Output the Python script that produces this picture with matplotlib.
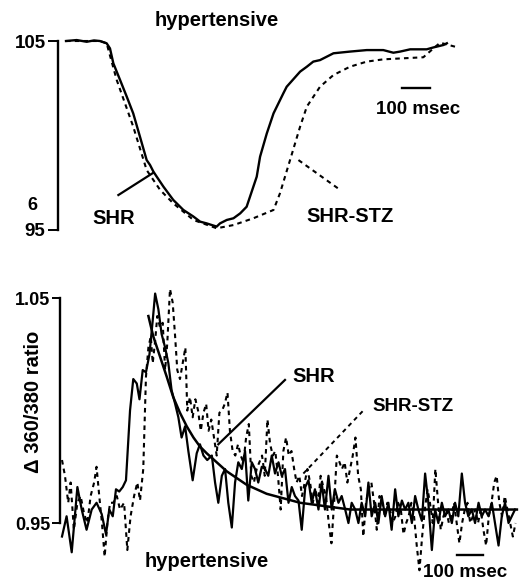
import matplotlib
matplotlib.use('Agg')
import matplotlib.pyplot as plt

plt.rcParams['font.family'] = ['Liberation Sans', 'DejaVu Sans']
plt.rcParams['font.weight'] = 'bold'

# ---- верхня панель: тиск (мм рт. ст.), час у мс ----
top_t_shr = [0, 38, 74, 100, 121, 145, 157, 169, 193, 217, 240, 264, 288, 300, 312,
             324, 348, 383, 419, 455, 479, 502, 538, 550, 574, 598, 622, 645, 657,
             681, 693, 717, 741, 776, 788, 836, 860, 883, 907, 955, 1014, 1074,
             1133, 1169, 1193, 1229, 1288, 1312, 1348, 1360]
top_v_shr = [105.0, 105.05, 104.96, 105.03, 105.0, 104.88, 104.61, 103.82, 102.94,
             102.05, 101.17, 99.94, 98.70, 98.44, 98.09, 97.82, 97.29, 96.59, 96.06,
             95.71, 95.44, 95.35, 95.18, 95.35, 95.53, 95.62, 95.88, 96.23, 96.76,
             97.82, 98.88, 100.11, 101.17, 102.23, 102.58, 103.38, 103.64, 103.91,
             103.99, 104.35, 104.44, 104.52, 104.52, 104.38, 104.44, 104.56, 104.56,
             104.66, 104.79, 104.88]
top_t_stz = [0, 121, 145, 181, 240, 288, 336, 383, 455, 538, 598, 669, 741, 764, 800,
             836, 860, 907, 955, 1014, 1074, 1133, 1276, 1312, 1336, 1389]
top_v_stz = [105.0, 105.0, 104.88, 102.94, 100.47, 98.17, 97.12, 96.41, 95.53, 95.09,
             95.26, 95.62, 96.06, 96.94, 98.70, 100.47, 101.53, 102.58, 103.20, 103.64,
             103.91, 104.03, 104.14, 104.61, 104.91, 104.70]

# ---- нижня панель: зміна співвідношення 360/380 ----
bot_t_shr = [0, 17, 36, 57, 73, 91, 110, 128, 147, 163, 175, 188, 200, 212, 225, 237,
             252, 264, 277, 287, 299, 311, 324, 336, 345, 357, 369, 382, 394, 406, 419,
             431, 443, 456, 468, 484, 499, 511, 524, 538, 555, 567, 579, 592, 604, 616,
             629, 641, 653, 666, 678, 690, 703, 715, 727, 740, 752, 764, 777, 789, 802,
             814, 826, 839, 851, 863, 876, 888, 901, 913, 925, 937, 950, 962, 974, 987,
             999, 1011, 1024, 1036, 1049, 1061, 1073, 1086, 1098, 1110, 1123, 1135,
             1147, 1160, 1172, 1184, 1197, 1209, 1221, 1234, 1246, 1259, 1271, 1283,
             1296, 1308, 1320, 1333, 1345, 1357, 1370, 1382, 1394, 1407, 1419, 1431,
             1444, 1456, 1468, 1481, 1493, 1505, 1518, 1530, 1543, 1555, 1567, 1580,
             1592, 1604, 1617, 1629, 1641, 1654, 1666, 1678]
bot_v_shr = [0.944, 0.953, 0.937, 0.966, 0.956, 0.947, 0.956, 0.959, 0.954, 0.945,
             0.956, 0.953, 0.965, 0.964, 0.966, 0.969, 1.000, 1.014, 1.012, 1.005,
             1.018, 1.017, 1.025, 1.040, 1.052, 1.045, 1.034, 1.028, 1.021, 1.009,
             1.003, 0.997, 0.988, 0.993, 0.982, 0.969, 0.981, 0.985, 0.980, 0.978,
             0.980, 0.968, 0.959, 0.971, 0.974, 0.959, 0.948, 0.968, 0.977, 0.974,
             0.982, 0.960, 0.977, 0.974, 0.968, 0.975, 0.974, 0.971, 0.980, 0.972,
             0.977, 0.971, 0.974, 0.959, 0.966, 0.962, 0.960, 0.947, 0.966, 0.969,
             0.959, 0.965, 0.956, 0.968, 0.956, 0.971, 0.956, 0.965, 0.959, 0.962,
             0.956, 0.950, 0.959, 0.956, 0.950, 0.959, 0.953, 0.968, 0.953, 0.959,
             0.950, 0.962, 0.953, 0.959, 0.947, 0.965, 0.953, 0.960, 0.956, 0.959,
             0.950, 0.962, 0.956, 0.951, 0.972, 0.959, 0.938, 0.956, 0.950, 0.959,
             0.953, 0.956, 0.950, 0.959, 0.953, 0.972, 0.959, 0.953, 0.956, 0.950,
             0.959, 0.953, 0.956, 0.953, 0.959, 0.950, 0.940, 0.953, 0.959, 0.950,
             0.953, 0.956]
bot_t_stz = [0, 11, 23, 32, 44, 57, 69, 82, 94, 106, 119, 128, 138, 148, 158, 168,
             178, 190, 203, 215, 230, 242, 254, 267, 279, 289, 301, 311, 320, 329, 336,
             345, 353, 363, 373, 382, 390, 400, 410, 419, 427, 437, 447, 457, 464, 474,
             484, 494, 504, 514, 524, 534, 543, 553, 563, 573, 583, 593, 603, 613, 622,
             632, 642, 652, 662, 672, 682, 692, 701, 711, 721, 731, 741, 751, 761, 771,
             781, 790, 800, 810, 820, 830, 840, 850, 860, 869, 879, 889, 899, 909, 919,
             929, 939, 949, 958, 968, 978, 988, 998, 1008, 1018, 1028, 1037, 1047,
             1057, 1067, 1077, 1087, 1097, 1107, 1116, 1126, 1136, 1146, 1156, 1166,
             1176, 1186, 1196, 1205, 1215, 1225, 1235, 1245, 1255, 1265, 1275, 1284,
             1294, 1304, 1314, 1324, 1334, 1344, 1354, 1363, 1373, 1383, 1393, 1403,
             1413, 1423, 1433, 1442, 1452, 1462, 1472, 1482, 1492, 1502, 1512, 1522,
             1531, 1541, 1551, 1561, 1571, 1581, 1591, 1601, 1610, 1620, 1630, 1640,
             1650, 1660, 1670, 1680]
bot_v_stz = [0.978, 0.971, 0.959, 0.968, 0.947, 0.959, 0.962, 0.954, 0.950, 0.962,
             0.968, 0.975, 0.962, 0.950, 0.935, 0.950, 0.959, 0.959, 0.962, 0.956,
             0.959, 0.938, 0.953, 0.962, 0.968, 0.960, 0.974, 1.015, 1.028, 1.033,
             1.021, 1.031, 1.042, 1.037, 1.039, 1.018, 1.030, 1.054, 1.048, 1.033,
             1.018, 1.014, 1.021, 1.028, 1.000, 1.006, 0.997, 1.005, 1.000, 0.991,
             0.999, 1.003, 0.991, 0.996, 0.988, 0.980, 0.999, 1.000, 1.003, 1.008,
             0.991, 0.982, 0.980, 0.985, 0.980, 0.977, 0.988, 0.994, 0.971, 0.968,
             0.974, 0.977, 0.980, 0.971, 0.996, 0.985, 0.980, 0.982, 0.971, 0.956,
             0.982, 0.988, 0.980, 0.982, 0.974, 0.968, 0.971, 0.962, 0.968, 0.974,
             0.968, 0.959, 0.965, 0.959, 0.971, 0.966, 0.962, 0.950, 0.941, 0.959,
             0.980, 0.977, 0.974, 0.977, 0.968, 0.974, 0.980, 0.988, 0.971, 0.965,
             0.944, 0.959, 0.965, 0.968, 0.959, 0.947, 0.962, 0.959, 0.953, 0.959,
             0.956, 0.950, 0.953, 0.959, 0.956, 0.945, 0.950, 0.953, 0.959, 0.953,
             0.940, 0.929, 0.944, 0.956, 0.965, 0.959, 0.950, 0.974, 0.959, 0.947,
             0.953, 0.956, 0.950, 0.953, 0.959, 0.950, 0.941, 0.950, 0.956, 0.959,
             0.950, 0.953, 0.956, 0.950, 0.956, 0.947, 0.940, 0.953, 0.959, 0.968,
             0.971, 0.959, 0.953, 0.962, 0.956, 0.950, 0.944, 0.950]
# експоненційна апроксимація спаду
fit_t = [320, 338, 363, 388, 412, 437, 462, 487, 511, 536, 573, 610, 647, 684, 721,
         758, 820, 882, 944, 1005, 1067, 1129, 1252, 1685]
fit_v = [1.042, 1.033, 1.024, 1.015, 1.006, 0.999, 0.993, 0.988, 0.984, 0.981, 0.977,
         0.973, 0.970, 0.967, 0.965, 0.963, 0.961, 0.959, 0.958, 0.957, 0.956, 0.956,
         0.956, 0.956]

dash = (0, (2.2, 2.0))
fs = 14.5
tfs = 13.5

fig = plt.figure(figsize=(5.25, 5.81), dpi=100)

# Верхня панель
ax1 = fig.add_axes([58 / 525, 1 - 240 / 581, 1 - 58 / 525, 240 / 581])
ax1.plot(top_t_shr, top_v_shr, color='black', lw=1.7)
ax1.plot(top_t_stz, top_v_stz, color='black', lw=1.5, linestyle=dash)
ax1.set_xlim(-28.6, 1639)
ax1.set_ylim(94.47, 107.17)
for s in ['top', 'right', 'bottom']:
    ax1.spines[s].set_visible(False)
ax1.spines['left'].set_bounds(95, 105)
ax1.spines['left'].set_linewidth(1.7)
ax1.set_xticks([])
ax1.set_yticks([95, 105])
ax1.set_yticklabels(['95', '105'], fontsize=tfs, fontweight='bold')
ax1.tick_params(axis='y', length=7, width=1.4, pad=2)

ax1.text(538, 106.1, 'hypertensive', ha='center', va='center', fontsize=fs, fontweight='bold')
ax1.plot([1201, 1300], [102.5, 102.5], color='black', lw=1.7)
ax1.text(1258, 101.35, '100 msec', ha='center', va='center', fontsize=tfs, fontweight='bold')
ax1.plot([187, 312], [96.85, 98.03], color='black', lw=1.6)
ax1.text(169, 95.62, 'SHR', ha='center', va='center', fontsize=fs, fontweight='bold')
ax1.plot([830, 979], [98.70, 97.12], color='black', lw=1.5, linestyle=dash)
ax1.text(1014, 95.71, 'SHR-STZ', ha='center', va='center', fontsize=fs, fontweight='bold')
ax1.text(-121, 96.32, '6', ha='center', va='center', fontsize=13, fontweight='heavy',
         clip_on=False)

# Нижня панель
ax2 = fig.add_axes([60 / 525, 1 - 575 / 581, 1 - 60 / 525, 290 / 581])
ax2.plot(bot_t_stz, bot_v_stz, color='black', lw=1.5, linestyle=dash)
ax2.plot(bot_t_shr, bot_v_shr, color='black', lw=1.6)
ax2.plot(fit_t, fit_v, color='black', lw=1.8)
ax2.set_xlim(-7.4, 1715)
ax2.set_ylim(0.9269, 1.0558)
for s in ['top', 'right', 'bottom']:
    ax2.spines[s].set_visible(False)
ax2.spines['left'].set_bounds(0.95, 1.05)
ax2.spines['left'].set_linewidth(1.7)
ax2.set_xticks([])
ax2.set_yticks([0.95, 1.05])
ax2.set_yticklabels(['0.95', '1.05'], fontsize=13, fontweight='bold')
ax2.tick_params(axis='y', length=6, width=1.4, pad=1)
ax2.set_ylabel('Δ 360/380 ratio', fontsize=14.5, fontweight='bold')
ax2.yaxis.set_label_coords(-0.037, 0.597)

ax2.plot([579, 826], [0.985, 1.0136], color='black', lw=1.6)
ax2.text(931, 1.015, 'SHR', ha='center', va='center', fontsize=fs, fontweight='bold')
ax2.plot([894, 1116], [0.972, 1.000], color='black', lw=1.4, linestyle=dash)
ax2.text(1302, 1.002, 'SHR-STZ', ha='center', va='center', fontsize=13.5, fontweight='bold')
ax2.text(536, 0.933, 'hypertensive', ha='center', va='center', fontsize=fs, fontweight='bold')
ax2.plot([1462, 1561], [0.936, 0.936], color='black', lw=1.7)
ax2.text(1493, 0.928, '100 msec', ha='center', va='center', fontsize=13.5, fontweight='bold')

fig.savefig('out.png', dpi=100)
